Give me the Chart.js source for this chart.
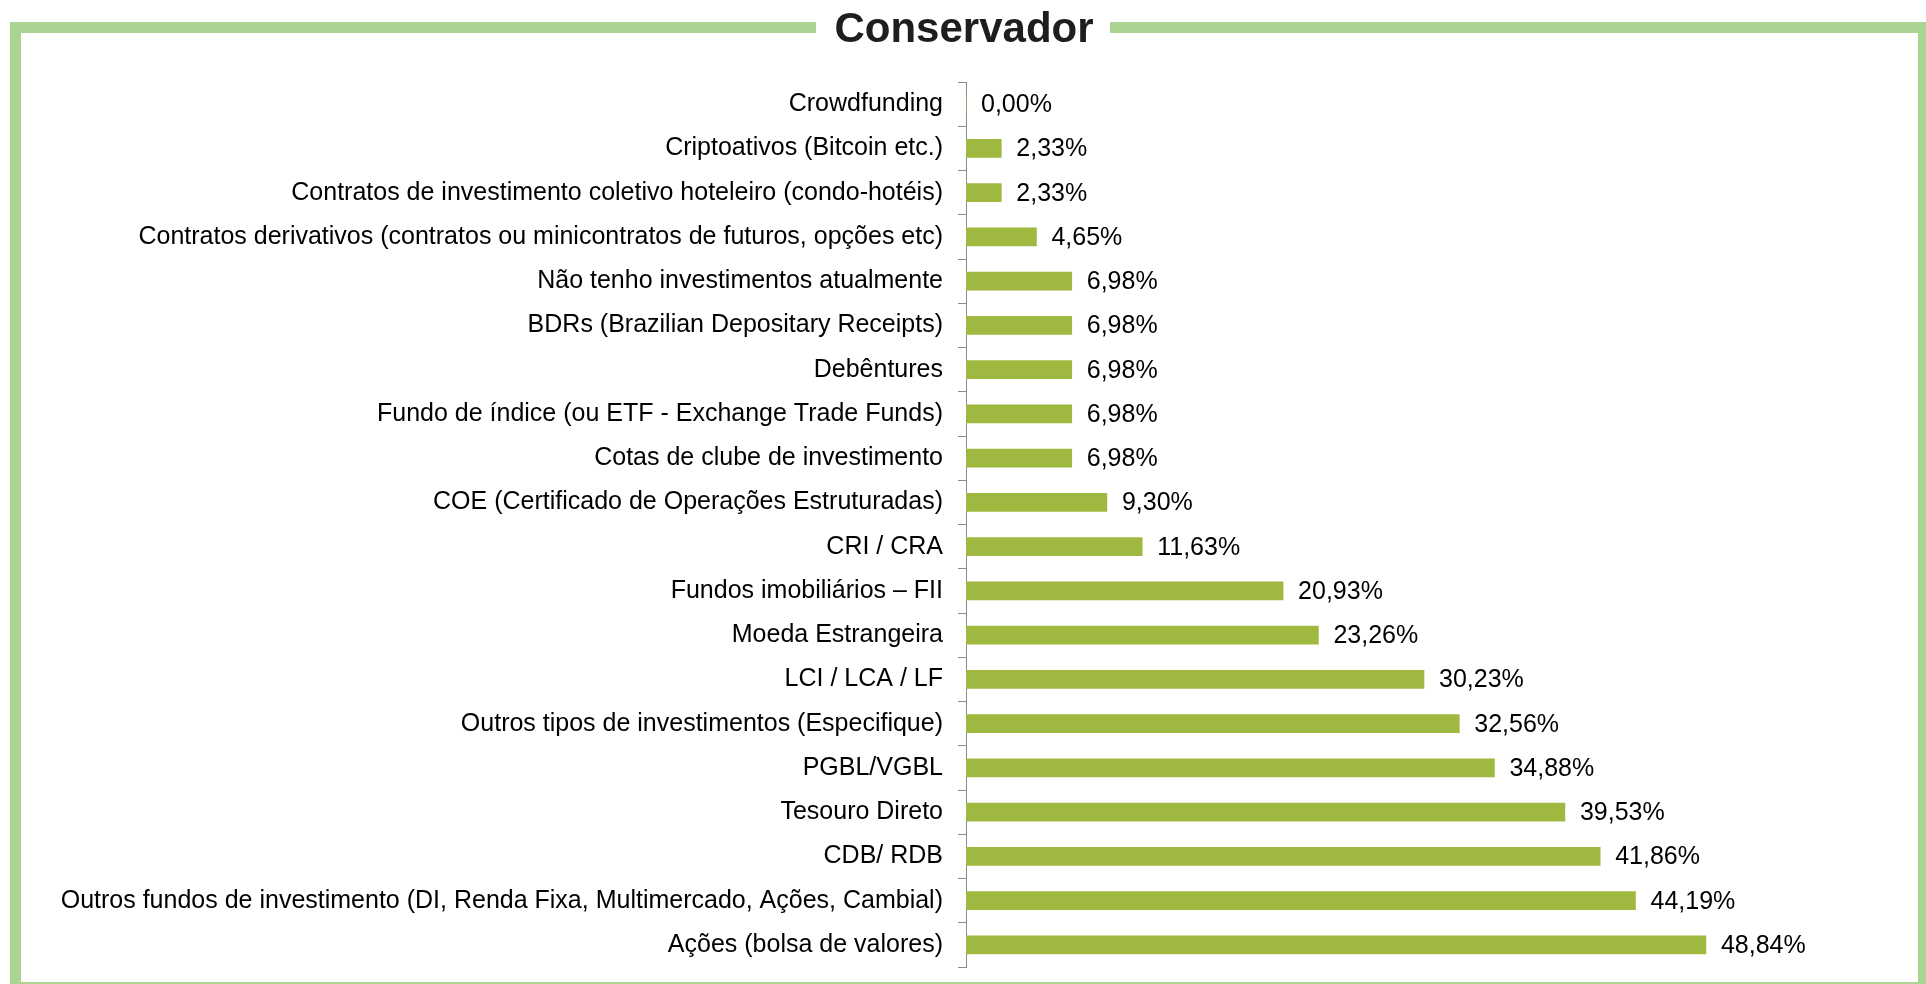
<!DOCTYPE html>
<html>
<head>
<meta charset="utf-8">
<script src="https://cdn.jsdelivr.net/npm/chart.js@4"></script>
<style>
  html, body { margin: 0; padding: 0; background: #fff; }
  canvas { display: block; }
</style>
</head>
<body>
<canvas id="chart" width="1926" height="984"></canvas>
<script>
// categories, top to bottom
const categories = [
  "Crowdfunding",
  "Criptoativos (Bitcoin etc.)",
  "Contratos de investimento coletivo hoteleiro (condo-hotéis)",
  "Contratos derivativos (contratos ou minicontratos de futuros, opções etc)",
  "Não tenho investimentos atualmente",
  "BDRs (Brazilian Depositary Receipts)",
  "Debêntures",
  "Fundo de índice (ou ETF - Exchange Trade Funds)",
  "Cotas de clube de investimento",
  "COE (Certificado de Operações Estruturadas)",
  "CRI / CRA",
  "Fundos imobiliários – FII",
  "Moeda Estrangeira",
  "LCI / LCA / LF",
  "Outros tipos de investimentos (Especifique)",
  "PGBL/VGBL",
  "Tesouro Direto",
  "CDB/ RDB",
  "Outros fundos de investimento (DI, Renda Fixa, Multimercado, Ações, Cambial)",
  "Ações (bolsa de valores)"
];

const percentages = [
  0.00, 2.33, 2.33, 4.65, 6.98, 6.98, 6.98, 6.98, 6.98, 9.30,
  11.63, 20.93, 23.26, 30.23, 32.56, 34.88, 39.53, 41.86, 44.19, 48.84
];

const chartTitle = "Conservador";
const frameGreen = "#abd392";
const barGreen = "#9fb83f";
const axisGray = "#8c8c8c";

// white page, green frame with a gap for the title
const framePlugin = {
  id: "frame",
  beforeDraw(chart) {
    const ctx = chart.ctx;
    const w = chart.width, h = chart.height;
    ctx.save();
    ctx.fillStyle = "#fff";
    ctx.fillRect(0, 0, w, h);
    ctx.fillStyle = frameGreen;
    ctx.fillRect(10, 22, 806, 11);        // top, left part
    ctx.fillRect(1110, 22, w - 1110, 11); // top, right part
    ctx.fillRect(10, 22, 11, h - 22);     // left
    ctx.fillRect(w - 8, 22, 8, h - 22);   // right
    ctx.fillRect(10, h - 2, w - 10, 2);   // bottom
    ctx.fillStyle = "#1e1e1e";
    ctx.font = "bold 42px 'Liberation Sans', Arial, sans-serif";
    ctx.textAlign = "center";
    ctx.textBaseline = "middle";
    ctx.fillText(chartTitle, 964, 30);
    ctx.restore();
  }
};

// value labels to the right of each bar
const valueLabels = {
  id: "valueLabels",
  afterDatasetsDraw(chart) {
    const ctx = chart.ctx;
    const meta = chart.getDatasetMeta(0);
    ctx.save();
    ctx.fillStyle = "#000";
    ctx.font = "25px 'Liberation Sans', Arial, sans-serif";
    ctx.textAlign = "left";
    ctx.textBaseline = "middle";
    meta.data.forEach((bar, i) => {
      const txt = percentages[i].toFixed(2).replace(".", ",") + "%";
      ctx.fillText(txt, bar.x + 15, bar.y + 1);
    });
    ctx.restore();
  }
};

new Chart(document.getElementById("chart"), {
  type: "bar",
  data: {
    labels: categories,
    datasets: [{
      data: percentages,
      backgroundColor: barGreen,
      borderWidth: 0,
      barThickness: 18
    }]
  },
  options: {
    indexAxis: "y",
    responsive: false,
    animation: false,
    layout: {
      padding: { left: 0, right: 51, top: 82, bottom: 17 }
    },
    plugins: {
      legend: { display: false },
      tooltip: { enabled: false }
    },
    scales: {
      x: {
        display: false,
        min: 0,
        max: 60
      },
      y: {
        afterFit(scale) {
          scale.width = 966;
          scale.paddingTop = 0;
          scale.paddingBottom = 0;
        },
        border: { display: true, color: axisGray, width: 1 },
        grid: {
          offset: true,
          drawOnChartArea: false,
          drawTicks: true,
          tickLength: 8,
          color: axisGray
        },
        ticks: {
          color: "#000",
          padding: 15,
          autoSkip: false,
          font: { family: "'Liberation Sans', Arial, sans-serif", size: 25 }
        }
      }
    }
  },
  plugins: [framePlugin, valueLabels]
});
</script>
</body>
</html>
